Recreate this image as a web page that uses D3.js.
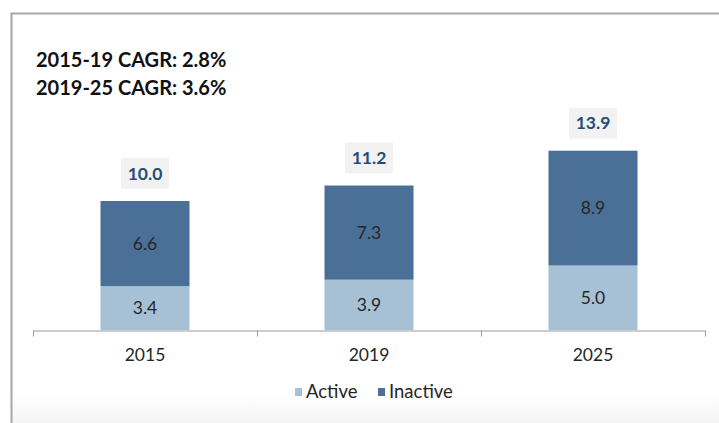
<!DOCTYPE html>
<html>
<head>
<meta charset="utf-8">
<script src="https://cdn.jsdelivr.net/npm/d3@7"></script>
<style>
  body { margin: 0; background: #fff; }
  svg { display: block; font-family: Lato, "Open Sans", sans-serif; }
</style>
</head>
<body>
<div class="main"></div>
<script>
//// Data
const years = ['2015', '2019', '2025'];
const active = [3.4, 3.9, 5.0];
const inactive = [6.6, 7.3, 8.9];
const totals = [10.0, 11.2, 13.9];
const cagrLines = ['2015-19 CAGR: 2.8%', '2019-25 CAGR: 3.6%'];
const seriesNames = ['Active', 'Inactive'];

const width = 719;
const height = 423;
const colors = { Active: '#a6c0d6', Inactive: '#4b7098' };

const svg = d3.select('.main').append('svg')
  .attr('width', width)
  .attr('height', height);

//// background + frame
const grad = svg.append('defs').append('linearGradient')
  .attr('id', 'bg').attr('x1', 0).attr('y1', 0).attr('x2', 0).attr('y2', 1);
grad.append('stop').attr('offset', '0%').attr('stop-color', '#ffffff');
grad.append('stop').attr('offset', '100%').attr('stop-color', '#f4f4f4');
svg.append('rect')
  .attr('x', 11).attr('y', 395).attr('width', width).attr('height', height - 395)
  .attr('fill', 'url(#bg)');
svg.append('path')
  .attr('d', `M${width + 2},13.5 H11.5 V${height + 2}`)
  .attr('fill', 'none')
  .attr('stroke', '#a6a6a6')
  .attr('stroke-width', 2);

//// scales
const xScale = d3.scaleBand().domain(years).range([33, 705]).paddingInner(0).paddingOuter(0);
const yScale = d3.scaleLinear().domain([0, 10]).range([330, 201]);
const barW = 89;

const stacked = d3.stack().keys(seriesNames)(years.map((y, i) => ({ year: y, Active: active[i], Inactive: inactive[i] })));

const layers = svg.selectAll('g.layer')
  .data(stacked)
  .enter().append('g')
  .attr('class', 'layer')
  .attr('fill', d => colors[d.key]);

layers.selectAll('rect')
  .data(d => d)
  .enter().append('rect')
  .attr('x', d => xScale(d.data.year) + xScale.bandwidth() / 2 - barW / 2)
  .attr('y', d => yScale(d[1]))
  .attr('width', barW)
  .attr('height', d => yScale(d[0]) - yScale(d[1]));

//// values inside bars
layers.selectAll('text')
  .data(d => d)
  .enter().append('text')
  .attr('x', d => xScale(d.data.year) + xScale.bandwidth() / 2)
  .attr('y', d => (yScale(d[0]) + yScale(d[1])) / 2)
  .attr('dy', '0.35em')
  .attr('text-anchor', 'middle')
  .attr('fill', '#262626')
  .attr('font-size', 17.5)
  .text(d => (d[1] - d[0]).toFixed(1));

//// totals with grey boxes
const tot = svg.selectAll('g.total')
  .data(totals)
  .enter().append('g')
  .attr('class', 'total')
  .attr('transform', (d, i) => `translate(${xScale(years[i]) + xScale.bandwidth() / 2}, ${yScale(d) - 12})`);
tot.append('rect')
  .attr('x', -24).attr('y', -31).attr('width', 48).attr('height', 31)
  .attr('fill', '#f2f2f2');
tot.append('text')
  .attr('y', -15.5)
  .attr('dy', '0.35em')
  .attr('text-anchor', 'middle')
  .attr('font-weight', 'bold')
  .attr('font-size', 17.5)
  .attr('fill', '#1f4e79')
  .text(d => d.toFixed(1));

//// x axis
const xAxis = d3.axisBottom(xScale).tickSize(0).tickPadding(18);
const gx = svg.append('g')
  .attr('transform', 'translate(0, 330.5)')
  .call(xAxis);
gx.select('.domain').attr('stroke', '#9a9a9a');
gx.selectAll('.tick text').attr('font-size', 17.5).attr('fill', '#262626').attr('font-family', 'Lato, sans-serif');
gx.selectAll('.bound')
  .data([33, 257, 481, 705])
  .enter().append('line')
  .attr('x1', d => d + 0.5).attr('x2', d => d + 0.5)
  .attr('y1', 0).attr('y2', 6)
  .attr('stroke', '#9a9a9a');

//// CAGR text
svg.selectAll('text.cagr')
  .data(cagrLines)
  .enter().append('text')
  .attr('class', 'cagr')
  .attr('x', 36)
  .attr('y', (d, i) => 67 + i * 28)
  .attr('font-weight', 'bold')
  .attr('font-size', 20)
  .attr('fill', '#111')
  .text(d => d);

//// legend
const legendX = [295, 378];
const lg = svg.selectAll('g.legend')
  .data(seriesNames)
  .enter().append('g')
  .attr('class', 'legend')
  .attr('transform', (d, i) => `translate(${legendX[i]}, 392)`);
lg.append('rect')
  .attr('x', 0).attr('y', -4).attr('width', 7).attr('height', 8)
  .attr('fill', d => colors[d]);
lg.append('text')
  .attr('x', 11)
  .attr('dy', '0.35em')
  .attr('font-size', 18.5)
  .attr('fill', '#262626')
  .text(d => d);
</script>
</body>
</html>
